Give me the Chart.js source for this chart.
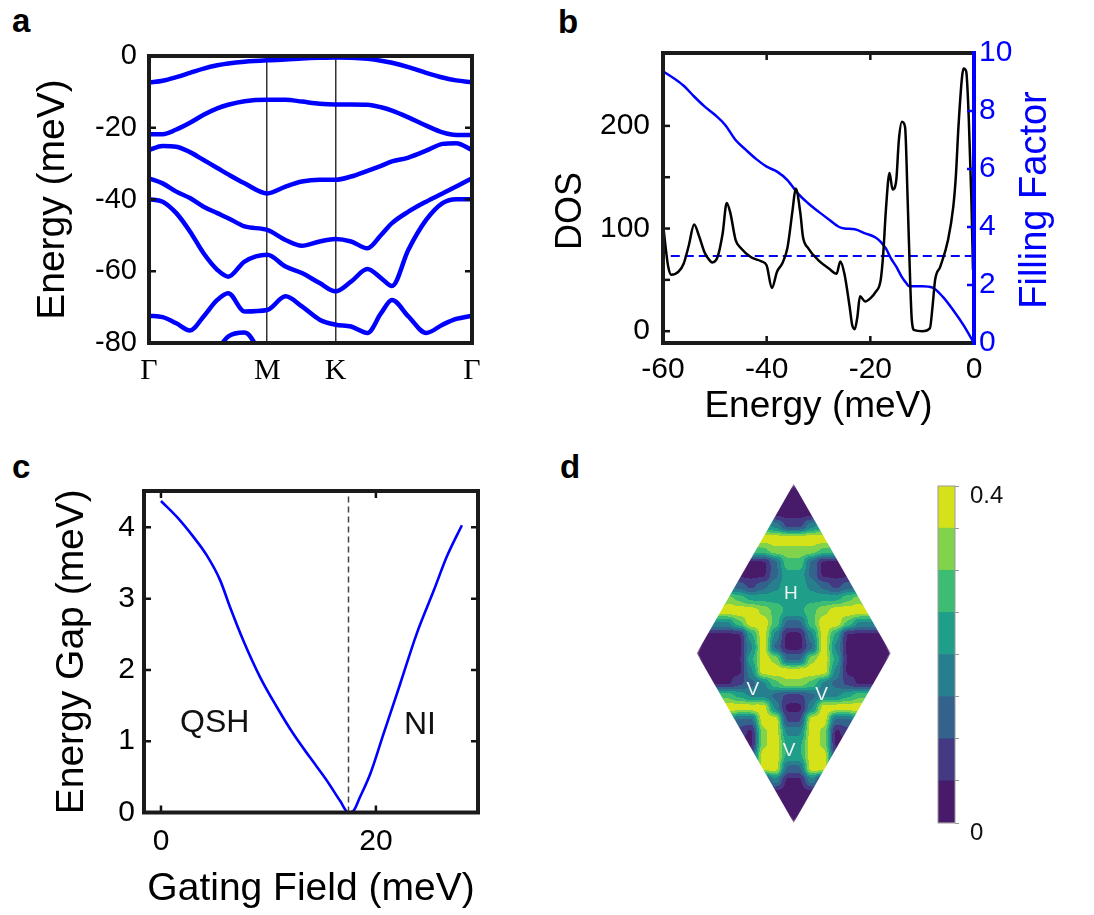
<!DOCTYPE html>
<html>
<head>
<meta charset="utf-8">
<script src="https://cdn.jsdelivr.net/npm/chart.js@4.4.1/dist/chart.umd.min.js"></script>
<style>
  html, body { margin: 0; padding: 0; background: #fff; }
  #page { position: relative; width: 1094px; height: 915px; overflow: hidden; }
  canvas { position: absolute; }
  .tag { position: absolute; font: bold 33px "Liberation Sans", Arial, sans-serif; line-height: 33px; color: #000; }
</style>
</head>
<body>
<div id="page">
  <div class="tag" style="left:12px;top:4px">a</div>
  <div class="tag" style="left:558px;top:5px">b</div>
  <div class="tag" style="left:12px;top:450px">c</div>
  <div class="tag" style="left:560px;top:450px">d</div>
  <canvas id="bandChart" width="530" height="440" style="left:0;top:0"></canvas>
  <canvas id="dosChart" width="554" height="440" style="left:540px;top:0"></canvas>
  <canvas id="gapChart" width="530" height="475" style="left:0;top:440px"></canvas>
  <canvas id="mapChart" width="290" height="380" style="left:640px;top:460px"></canvas>
  <canvas id="barChart" width="160" height="370" style="left:925px;top:470px"></canvas>
</div>
<script>
// ---- a: band structure along Γ-M-K-Γ (meV) ----
var kPath = [0, 0.1, 0.2, 0.3, 0.4, 0.5, 0.58, 0.7, 0.866, 1.0, 1.12, 1.25, 1.366, 1.48, 1.6, 1.7, 1.78, 1.9, 2.03, 2.15, 2.25, 2.366];
var kTicks = [0, 0.866, 1.366, 2.366];
var kTickLabels = ['Γ', 'M', 'K', 'Γ'];
var band1 = [-7.4, -6.9, -5.9, -4.7, -3.5, -2.6, -2.1, -1.6, -1.2, -1.0, -0.7, -0.5, -0.4, -0.5, -0.8, -1.3, -1.9, -3.1, -4.7, -6.0, -6.8, -7.3];
var band2 = [-21.8, -21.8, -20.5, -18.6, -16.4, -14.6, -13.6, -12.6, -12.2, -12.2, -12.7, -13.3, -13.5, -13.5, -13.6, -14.3, -15.2, -17.1, -19.4, -21.3, -22.0, -22.0];
var band3 = [-26.2, -25.1, -25.3, -26.8, -29.0, -31.2, -33.0, -35.5, -38.3, -36.4, -35.0, -34.5, -34.5, -33.6, -32.0, -30.6, -29.4, -28.3, -26.4, -24.5, -24.3, -26.2];
var band4 = [-34.1, -35.5, -37.8, -39.6, -42.0, -43.8, -45.2, -47.5, -48.5, -51.3, -52.9, -51.7, -51.0, -51.7, -53.6, -49.9, -46.6, -43.4, -40.6, -38.3, -36.4, -34.1];
var band5 = [-39.9, -40.6, -43.8, -48.9, -55.0, -59.6, -61.5, -57.3, -55.4, -58.7, -60.5, -63.3, -65.6, -62.9, -59.4, -61.9, -64.1, -54.0, -45.7, -41.0, -39.9, -39.9];
var band6 = [-72.4, -72.8, -74.5, -76.5, -72.6, -68.0, -66.1, -71.2, -70.8, -67.0, -69.8, -73.5, -74.9, -75.4, -77.2, -71.7, -68.0, -72.6, -77.2, -74.9, -73.3, -72.4];
var band7 = [-90, -90, -90, -90, -86, -81.9, -78.2, -77.1, -86, -90, -90, -86, -80.4, -84, -80.4, -86, -90, -90, -90, -90, -90, -90];

// ---- b: density of states and filling factor ----
var dosEnergy = [-60, -59.5, -59, -58.4, -57, -56, -55, -54, -53, -52, -51, -50.5, -49.5, -48.5, -47.7, -47, -46, -45, -43, -41, -40, -39, -38, -37, -36, -35, -34.4, -33.5, -33, -32, -30, -28, -26.5, -25.8, -25, -24, -23.5, -23, -22.5, -22, -21, -20, -19, -18, -17.5, -17, -16.3, -15.7, -15, -14.5, -13.9, -13.3, -12.8, -12.3, -12, -11.5, -10, -8.5, -8, -7.5, -6.5, -5, -4, -3.5, -3, -2.3, -2, -1.5, -1, -0.5, -0.2];
var dosValue = [105, 82, 63, 55, 58, 66, 84, 104, 92, 77, 69, 67, 72, 95, 125, 115, 89, 81, 72, 68, 64, 42, 58, 66, 81, 118, 139, 115, 92, 81, 69, 61, 56, 68, 56, 24, 6, 2, 14, 34, 29, 32, 38, 50, 76, 118, 154, 138, 147, 186, 204, 199, 128, 46, 11, 1, 0, 3, 24, 50, 63, 89, 121, 151, 199, 248, 256, 253, 206, 128, 60];
var fillEnergy = [-60, -58, -56, -54, -52, -50, -48, -46, -44, -42, -40, -38, -36, -34, -32, -30, -28, -26, -25, -23, -21, -19, -18, -17, -16, -15, -14, -13, -12.5, -10, -8, -6, -4, -2, 0];
var fillFactor = [9.37, 9.14, 8.87, 8.5, 8.16, 7.87, 7.52, 7.0, 6.66, 6.34, 6.08, 5.91, 5.62, 5.16, 4.82, 4.53, 4.26, 4.0, 3.95, 3.92, 3.78, 3.64, 3.49, 3.26, 2.91, 2.63, 2.30, 2.05, 1.96, 1.96, 1.91, 1.59, 1.13, 0.61, 0];
var refEnergy = [-58.5, -0.5];
var refFilling = [3, 3];

// ---- c: gap vs gating field ----
var gateField = [0, 1.46, 3.0, 4.25, 5.5, 6.43, 7.67, 9.22, 10.78, 12.33, 13.88, 15.43, 16.68, 17.45, 17.9, 18.5, 19.47, 20.7, 22.27, 23.8, 25.4, 26.6, 28.0];
var energyGap = [4.37, 4.15, 3.87, 3.61, 3.26, 2.88, 2.41, 1.90, 1.48, 1.10, 0.77, 0.45, 0.16, 0, 0.02, 0.21, 0.54, 1.10, 1.81, 2.51, 3.12, 3.59, 4.03];
var transitionField = 17.45;

// ---- d: contour levels (0..7) on a 16 x 28 grid over the cell ----
var mapRows = [
  '0000000000000000',
  '0000000000000000',
  '0000000000000000',
  '0000043113400000',
  '0000777777770000',
  '0000556666550000',
  '0000002552000000',
  '0000002442000000',
  '0022123443212200',
  '0065444444445600',
  '0777765445677770',
  '3335775225775333',
  '0000473003740000',
  '0000372002730000',
  '0000476226740000',
  '0000377777730000',
  '0001235665321000',
  '0554332112334550',
  '0777773003777770',
  '0042277117722400',
  '0011067337601100',
  '0000067447600000',
  '0000177447710000',
  '0000077227700000',
  '0000003003000000',
  '0000000000000000',
  '0000000000000000',
  '0000000000000000'
];
var levelColors = ['#471a6a', '#443a83', '#33628d', '#277f8e', '#1f9e89', '#3dbc74', '#82d34c', '#d5e21a'];
var barSteps = [0.05, 0.05, 0.05, 0.05, 0.05, 0.05, 0.05, 0.05];
var barTicks = [0, 0.05, 0.1, 0.15, 0.2, 0.25, 0.3, 0.35, 0.4];

Chart.defaults.font.family = '"Liberation Sans", Arial, sans-serif';
Chart.defaults.color = '#000';
Chart.defaults.animation = false;
Chart.defaults.events = [];
Chart.defaults.plugins.legend.display = false;
Chart.defaults.plugins.tooltip.enabled = false;

var SANS = '"Liberation Sans", Arial, sans-serif';
var SERIF = '"Liberation Serif", "Times New Roman", serif';

function toPoints(xs, ys) {
  return xs.map(function (x, i) { return { x: x, y: ys[i] }; });
}
function fixTicks(values) {
  return function (scale) { scale.ticks = values.map(function (v) { return { value: v }; }); };
}
// pin an axis to a fixed thickness so the plot boxes land where the figure has them
function fixSize(prop, size) {
  return function (s) {
    s[prop] = size;
    s.paddingTop = s.paddingBottom = s.paddingLeft = s.paddingRight = 0;
  };
}

// black box round the plot area plus short inward tick marks
var frame = {
  id: 'frame',
  afterDraw: function (chart, args, opts) {
    var ctx = chart.ctx, a = chart.chartArea;
    ctx.save();
    ctx.lineWidth = 2.5;
    (opts.marks || []).forEach(function (m) {
      var s = chart.scales[m.axis];
      ctx.strokeStyle = m.color || '#111';
      s.ticks.forEach(function (t) {
        var p = s.getPixelForValue(t.value);
        if (s.isHorizontal() ? (p <= a.left + 2 || p >= a.right - 2) : (p <= a.top + 2 || p >= a.bottom - 2)) return;
        ctx.beginPath();
        m.sides.forEach(function (side) {
          if (side === 'left') { ctx.moveTo(a.left, p); ctx.lineTo(a.left + 7, p); }
          if (side === 'right') { ctx.moveTo(a.right, p); ctx.lineTo(a.right - 7, p); }
          if (side === 'bottom') { ctx.moveTo(p, a.bottom); ctx.lineTo(p, a.bottom - 7); }
          if (side === 'top') { ctx.moveTo(p, a.top); ctx.lineTo(p, a.top + 7); }
        });
        ctx.stroke();
      });
    });
    ctx.lineWidth = 4;
    ctx.strokeStyle = '#1a1a1a';
    ctx.strokeRect(a.left, a.top, a.right - a.left, a.bottom - a.top);
    if (opts.rightColor) {
      ctx.strokeStyle = opts.rightColor;
      ctx.beginPath();
      ctx.moveTo(a.right, a.top - 2);
      ctx.lineTo(a.right, a.bottom + 2);
      ctx.stroke();
    }
    ctx.restore();
  }
};

// text placed in data coordinates
var dataText = {
  id: 'dataText',
  afterDraw: function (chart, args, opts) {
    var ctx = chart.ctx, xs = chart.scales.x, ys = chart.scales.y;
    ctx.save();
    ctx.font = opts.font;
    ctx.fillStyle = opts.color;
    ctx.textAlign = 'center';
    ctx.textBaseline = 'middle';
    (opts.items || []).forEach(function (it) {
      ctx.fillText(it.text, xs.getPixelForValue(it.x), ys.getPixelForValue(it.y));
    });
    ctx.restore();
  }
};

// rotated axis titles that read bottom to top
var sideTitles = {
  id: 'sideTitles',
  afterDraw: function (chart, args, opts) {
    var ctx = chart.ctx;
    (opts.items || []).forEach(function (it) {
      ctx.save();
      ctx.translate(it.x, it.y);
      ctx.rotate(-Math.PI / 2);
      ctx.font = it.font;
      ctx.fillStyle = it.color;
      ctx.textAlign = 'center';
      ctx.textBaseline = 'middle';
      ctx.fillText(it.text, 0, 0);
      ctx.restore();
    });
  }
};

// ---------- a ----------
new Chart(document.getElementById('bandChart'), {
  type: 'scatter',
  data: {
    datasets: [band1, band2, band3, band4, band5, band6, band7].map(function (b) {
      return {
        data: toPoints(kPath, b),
        showLine: true,
        borderColor: '#0000ff',
        borderWidth: 4.5,
        pointRadius: 0,
        cubicInterpolationMode: 'monotone'
      };
    })
  },
  options: {
    responsive: false,
    layout: { padding: { left: 0, top: 56, right: 58, bottom: 0 } },
    scales: {
      x: {
        type: 'linear', min: 0, max: 2.366, z: 1,
        afterBuildTicks: fixTicks(kTicks),
        afterFit: fixSize('height', 97),
        grid: { color: '#333', lineWidth: 1.5, drawTicks: false },
        border: { display: false },
        ticks: {
          autoSkip: false, maxRotation: 0, padding: 10,
          font: { family: SERIF, size: 30 },
          callback: function (v, i) { return kTickLabels[i]; }
        }
      },
      y: {
        min: -80, max: 0,
        afterBuildTicks: fixTicks([-80, -60, -40, -20, 0]),
        afterFit: fixSize('width', 149),
        grid: { display: false, drawTicks: false },
        border: { display: false },
        ticks: { padding: 12, font: { size: 29 } },
        title: { display: true, text: 'Energy (meV)', font: { size: 39 }, padding: { top: 30, bottom: 0 } }
      }
    },
    plugins: { frame: { marks: [{ axis: 'y', sides: ['left', 'right'] }] } }
  },
  plugins: [frame]
});

// ---------- b ----------
new Chart(document.getElementById('dosChart'), {
  type: 'scatter',
  data: {
    datasets: [
      { data: toPoints(dosEnergy, dosValue), yAxisID: 'y', showLine: true, borderColor: '#000', borderWidth: 2.5, pointRadius: 0, cubicInterpolationMode: 'monotone' },
      { data: toPoints(fillEnergy, fillFactor), yAxisID: 'y1', showLine: true, borderColor: '#0000ff', borderWidth: 2.5, pointRadius: 0, cubicInterpolationMode: 'monotone' },
      { data: toPoints(refEnergy, refFilling), yAxisID: 'y1', showLine: true, borderColor: '#0000ff', borderWidth: 2, borderDash: [9, 5], pointRadius: 0 }
    ]
  },
  options: {
    responsive: false,
    layout: { padding: { left: 0, top: 53, right: 0, bottom: 0 } },
    scales: {
      x: {
        type: 'linear', min: -60, max: 0,
        afterBuildTicks: fixTicks([-60, -40, -20, 0]),
        afterFit: fixSize('height', 97),
        grid: { display: false, drawTicks: false },
        border: { display: false },
        ticks: { padding: 9, font: { size: 30 } },
        title: { display: true, text: 'Energy (meV)', font: { size: 37 }, padding: { top: 0, bottom: 11 } }
      },
      y: {
        position: 'left', min: -11.5, max: 271,
        afterBuildTicks: fixTicks([0, 50, 100, 150, 200]),
        afterFit: fixSize('width', 123),
        grid: { display: false, drawTicks: false },
        border: { display: false },
        ticks: { padding: 13, font: { size: 30 }, callback: function (v) { return v % 100 === 0 ? v : ''; } }
      },
      y1: {
        position: 'right', min: 0, max: 10,
        afterBuildTicks: fixTicks([0, 2, 4, 6, 8, 10]),
        afterFit: fixSize('width', 120),
        grid: { display: false, drawTicks: false },
        border: { display: false },
        ticks: { padding: 5, color: '#0000ff', font: { size: 30 } }
      }
    },
    plugins: {
      frame: {
        rightColor: '#0000ff',
        marks: [
          { axis: 'y', sides: ['left'] },
          { axis: 'y1', sides: ['right'], color: '#0000ff' },
          { axis: 'x', sides: ['top', 'bottom'] }
        ]
      },
      sideTitles: {
        items: [
          { text: 'DOS', x: 31, y: 211, font: '36px ' + SANS, color: '#000' },
          { text: 'Filling Factor', x: 496, y: 200, font: '38px ' + SANS, color: '#0000ff' }
        ]
      }
    }
  },
  plugins: [frame, sideTitles]
});

// ---------- c ----------
new Chart(document.getElementById('gapChart'), {
  type: 'scatter',
  data: {
    datasets: [
      { data: toPoints(gateField, energyGap), showLine: true, borderColor: '#0000ff', borderWidth: 2.6, pointRadius: 0, cubicInterpolationMode: 'monotone' },
      { data: [{ x: transitionField, y: 0 }, { x: transitionField, y: 4.51 }], showLine: true, borderColor: '#444', borderWidth: 1.5, borderDash: [6, 4], pointRadius: 0 }
    ]
  },
  options: {
    responsive: false,
    layout: { padding: { left: 0, top: 51, right: 52, bottom: 0 } },
    scales: {
      x: {
        type: 'linear', min: -1.58, max: 29.5,
        afterBuildTicks: fixTicks([0, 20]),
        afterFit: fixSize('height', 102.5),
        grid: { display: false, drawTicks: false },
        border: { display: false },
        ticks: { padding: 11, font: { size: 30 } },
        title: { display: true, text: 'Gating Field (meV)', font: { size: 39 }, padding: { top: 0, bottom: 2 } }
      },
      y: {
        min: 0, max: 4.51,
        afterBuildTicks: fixTicks([0, 1, 2, 3, 4]),
        afterFit: fixSize('width', 144),
        grid: { display: false, drawTicks: false },
        border: { display: false },
        ticks: { padding: 9, font: { size: 30 } },
        title: { display: true, text: 'Energy Gap (meV)', font: { size: 39 }, padding: { top: 49, bottom: 0 } }
      }
    },
    plugins: {
      frame: { marks: [{ axis: 'y', sides: ['left', 'right'] }, { axis: 'x', sides: ['top', 'bottom'] }] },
      dataText: {
        font: '32px ' + SANS, color: '#111',
        items: [{ text: 'QSH', x: 5.0, y: 1.25 }, { text: 'NI', x: 24.1, y: 1.22 }]
      }
    }
  },
  plugins: [frame, dataText]
});

// ---------- d ----------
var halfH = Math.sqrt(3) / 2;
var mapPoints = [];
mapRows.forEach(function (row, r) {
  row.split('').forEach(function (ch, c) {
    mapPoints.push({
      x: -0.5 + (c + 0.5) / row.length,
      y: halfH - (r + 0.5) * 2 * halfH / mapRows.length,
      v: +ch
    });
  });
});
var levelRGB = levelColors.map(function (h) {
  return [parseInt(h.substr(1, 2), 16), parseInt(h.substr(3, 2), 16), parseInt(h.substr(5, 2), 16)];
});
var GRAY_STEP = 36;

function rhombusPath(ctx, x, y) {
  ctx.beginPath();
  ctx.moveTo(x.getPixelForValue(0), y.getPixelForValue(halfH));
  ctx.lineTo(x.getPixelForValue(0.5), y.getPixelForValue(0));
  ctx.lineTo(x.getPixelForValue(0), y.getPixelForValue(-halfH));
  ctx.lineTo(x.getPixelForValue(-0.5), y.getPixelForValue(0));
  ctx.closePath();
}

// cells are drawn as grey levels, softened, clipped to the cell outline and
// then painted with the stepped colour map, like a filled contour plot
var contourFill = {
  id: 'contourFill',
  afterDatasetsDraw: function (chart) {
    var ctx = chart.ctx, a = chart.chartArea, xs = chart.scales.x, ys = chart.scales.y;
    var x0 = Math.floor(a.left), y0 = Math.floor(a.top);
    var w = Math.ceil(a.right) - x0, h = Math.ceil(a.bottom) - y0;
    var tmp = document.createElement('canvas');
    tmp.width = w; tmp.height = h;
    tmp.getContext('2d').drawImage(chart.canvas, x0, y0, w, h, 0, 0, w, h);
    ctx.save();
    ctx.clearRect(x0, y0, w, h);
    rhombusPath(ctx, xs, ys);
    ctx.clip();
    ctx.filter = 'blur(3px)';
    ctx.drawImage(tmp, x0, y0);
    ctx.restore();

    var cx = xs.getPixelForValue(0), cy = ys.getPixelForValue(0);
    var hw = xs.getPixelForValue(0.5) - cx, hh = cy - ys.getPixelForValue(halfH);
    var img = ctx.getImageData(x0, y0, w, h), d = img.data;
    for (var j = 0; j < h; j++) {
      for (var i = 0; i < w; i++) {
        var p = (j * w + i) * 4;
        if (d[p + 3] === 0) continue;
        var lv = Math.max(0, Math.min(7, Math.round(d[p] / GRAY_STEP + 0.2)));
        var c = levelRGB[lv];
        d[p] = c[0]; d[p + 1] = c[1]; d[p + 2] = c[2];
        var inside = Math.abs(x0 + i + 0.5 - cx) / hw + Math.abs(y0 + j + 0.5 - cy) / hh;
        if (inside < 0.985) d[p + 3] = 255;
      }
    }
    ctx.putImageData(img, x0, y0);
  }
};

new Chart(document.getElementById('mapChart'), {
  type: 'scatter',
  data: {
    datasets: [{
      data: mapPoints,
      pointStyle: 'rect',
      pointRadius: 8.8,
      pointBorderWidth: 0,
      pointBackgroundColor: function (ctx) {
        var g = ctx.raw.v * GRAY_STEP;
        return 'rgb(' + g + ',' + g + ',' + g + ')';
      }
    }]
  },
  options: {
    responsive: false,
    layout: { padding: { left: 56.7, top: 24, right: 39.3, bottom: 17.3 } },
    scales: {
      x: { display: false, min: -0.5, max: 0.5 },
      y: { display: false, min: -halfH, max: halfH }
    },
    plugins: {
      dataText: {
        font: '19px ' + SANS, color: '#eef4f4',
        items: [
          { text: 'H', x: -0.015, y: 0.307 },
          { text: 'V', x: -0.211, y: -0.188 },
          { text: 'V', x: 0.144, y: -0.214 },
          { text: 'V', x: -0.024, y: -0.496 }
        ]
      }
    }
  },
  plugins: [contourFill, dataText]
});

var outline = {
  id: 'outline',
  afterDraw: function (chart) {
    var ctx = chart.ctx, a = chart.chartArea;
    ctx.save();
    ctx.strokeStyle = '#999';
    ctx.lineWidth = 1;
    ctx.strokeRect(a.left, a.top, a.right - a.left, a.bottom - a.top);
    ctx.restore();
  }
};

new Chart(document.getElementById('barChart'), {
  type: 'bar',
  data: {
    labels: [''],
    datasets: barSteps.map(function (v, i) {
      return { data: [v], backgroundColor: levelColors[i], borderWidth: 0, barPercentage: 1, categoryPercentage: 1 };
    })
  },
  options: {
    responsive: false,
    layout: { padding: { left: 13, top: 16, right: 0, bottom: 17 } },
    scales: {
      x: { display: false, stacked: true },
      y: {
        stacked: true, position: 'right', min: 0, max: 0.4,
        afterBuildTicks: fixTicks(barTicks),
        afterFit: fixSize('width', 130),
        grid: { drawOnChartArea: false, drawTicks: true, tickLength: 4, color: '#999' },
        border: { display: false },
        ticks: {
          padding: 11, labelOffset: 10, color: '#111', font: { size: 24 },
          callback: function (v) { return (v === 0 || v === 0.4) ? v : ''; }
        }
      }
    }
  },
  plugins: [outline]
});
</script>
</body>
</html>
